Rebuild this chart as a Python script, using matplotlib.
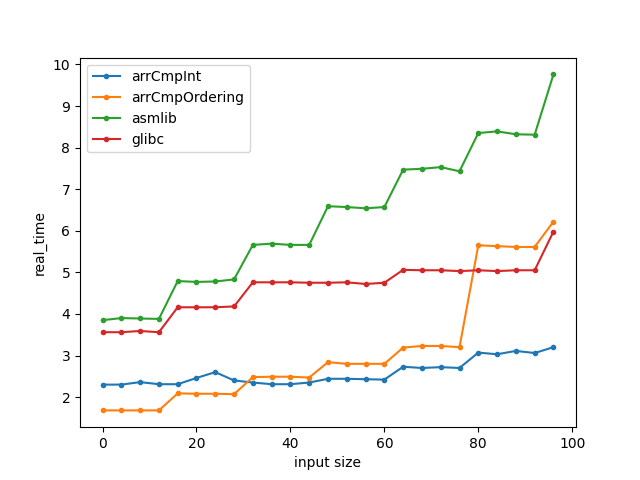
import matplotlib
matplotlib.use("Agg")
import matplotlib.pyplot as plt

sizes = list(range(0, 100, 4))

arr_cmp_int = [2.30, 2.30, 2.36, 2.31, 2.31, 2.46, 2.60, 2.40, 2.35, 2.31, 2.31, 2.35, 2.44,
               2.44, 2.43, 2.42, 2.73, 2.70, 2.72, 2.70, 3.07, 3.03, 3.11, 3.06, 3.20]
arr_cmp_ordering = [1.68, 1.68, 1.68, 1.68, 2.09, 2.08, 2.08, 2.07, 2.48, 2.49, 2.49, 2.47, 2.84,
                    2.80, 2.80, 2.80, 3.19, 3.23, 3.23, 3.20, 5.65, 5.63, 5.61, 5.61, 6.22]
asmlib = [3.85, 3.90, 3.89, 3.88, 4.79, 4.77, 4.78, 4.83, 5.66, 5.69, 5.66, 5.66, 6.59,
          6.57, 6.54, 6.57, 7.47, 7.49, 7.53, 7.43, 8.35, 8.39, 8.32, 8.31, 9.76]
glibc = [3.56, 3.56, 3.59, 3.56, 4.16, 4.16, 4.16, 4.18, 4.76, 4.76, 4.76, 4.75, 4.75,
         4.76, 4.72, 4.75, 5.06, 5.05, 5.05, 5.03, 5.05, 5.03, 5.05, 5.05, 5.98]

fig, ax = plt.subplots(figsize=(6.4, 4.8), dpi=100)
ax.plot(sizes, arr_cmp_int, marker=".", label="arrCmpInt")
ax.plot(sizes, arr_cmp_ordering, marker=".", label="arrCmpOrdering")
ax.plot(sizes, asmlib, marker=".", label="asmlib")
ax.plot(sizes, glibc, marker=".", label="glibc")
ax.set_xlabel("input size")
ax.set_ylabel("real_time")
ax.legend(loc="upper left")
fig.savefig("out.png")
